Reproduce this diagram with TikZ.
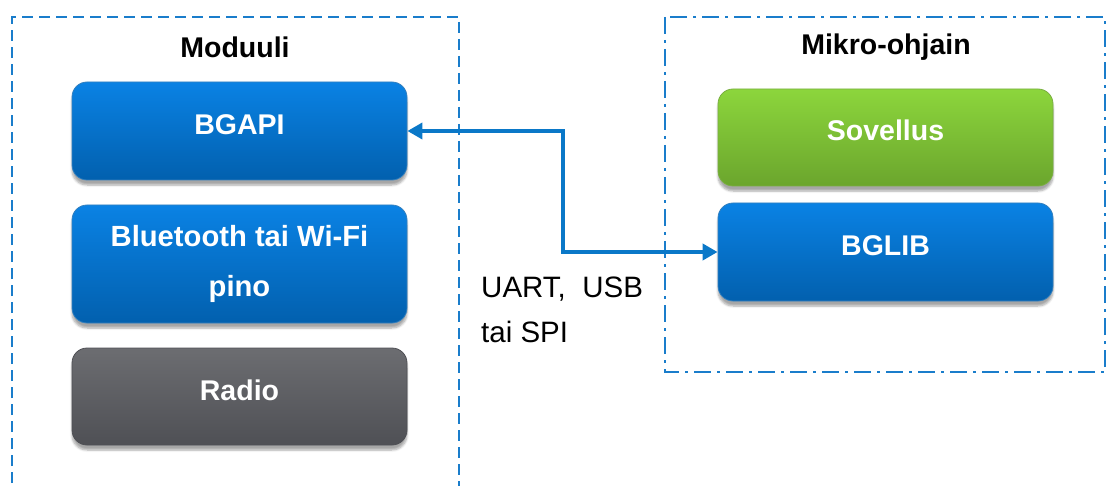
\documentclass[tikz,border=0pt]{standalone}
\usepackage{fontspec}
\setmainfont{Liberation Sans}
\usetikzlibrary{arrows.meta,shadows.blur}
\definecolor{frameblue}{HTML}{1A7DCB}
\definecolor{blueT}{HTML}{0A82E4}
\definecolor{blueB}{HTML}{0260AE}
\definecolor{greenT}{HTML}{8CD63C}
\definecolor{greenB}{HTML}{6BA52D}
\definecolor{grayT}{HTML}{6C6D71}
\definecolor{grayB}{HTML}{4F5055}
\definecolor{linkblue}{HTML}{0A78C8}
\begin{document}
\begin{tikzpicture}[x=1pt,y=-1pt,
  blockbox/.style={rounded corners=15pt, minimum width=335pt, align=center,
    text=white, font=\fontsize{28.5}{50}\selectfont\bfseries,
    blur shadow={shadow xshift=0pt, shadow yshift=-5pt, shadow blur steps=6, shadow opacity=35}},
  oneline/.style={text height=20pt, text depth=13pt},
  bluebox/.style={blockbox, top color=blueT, bottom color=blueB, draw=blueB!80, line width=0.8pt},
  greenbox/.style={blockbox, top color=greenT, bottom color=greenB, draw=greenB!90, line width=0.8pt},
  graybox/.style={blockbox, top color=grayT, bottom color=grayB, draw=grayB, line width=0.8pt},
  frametitle/.style={font=\fontsize{28.5}{34}\selectfont\bfseries, text=black},
  plaintext/.style={font=\fontsize{29.5}{34}\selectfont, text=black, anchor=base west, inner sep=0pt},
  link/.style={draw=linkblue, line width=4pt, {Triangle[length=15pt,width=16pt]}-{Triangle[length=15pt,width=16pt]}}
]
\useasboundingbox (0,0) rectangle (1107,486);

% group frames
\draw[frameblue, line width=2.2pt, dash pattern=on 11pt off 6pt]
  (12,500) -- (12,17) -- (459,17) -- (459,500);
\draw[frameblue, line width=2.2pt, dash pattern=on 17pt off 6pt on 3pt off 6pt]
  (665,17) rectangle (1105,372);

\node[frametitle] (modtitle) at (235,47) {Moduuli};
\node[frametitle] (mcutitle) at (886,47) {Mikro-ohjain};

% module stack
\node[bluebox, oneline, minimum height=98pt] (bgapi) at (239.5,131) {BGAPI};
\node[bluebox, minimum height=118pt, font=\fontsize{29.2}{50}\selectfont\bfseries] (stack) at (239.5,264) {Bluetooth tai Wi-Fi\\pino};
\node[graybox, oneline, minimum height=97pt] (radio) at (239.5,396.5) {Radio};

% microcontroller stack
\node[greenbox, oneline, minimum height=97pt] (app) at (885.5,137.5) {Sovellus};
\node[bluebox, oneline, minimum height=98pt] (bglib) at (885.5,252) {BGLIB};

% host interface link
\coordinate (bend) at (563,0);
\draw[link] (bgapi.east) -- (bgapi.east -| bend) -- (bglib.west -| bend) -- (bglib.west);

\node[plaintext] (iface1) at (481,297) {UART,\ \ USB};
\node[plaintext] (iface2) at (481,342) {tai SPI};
\end{tikzpicture}
\end{document}
